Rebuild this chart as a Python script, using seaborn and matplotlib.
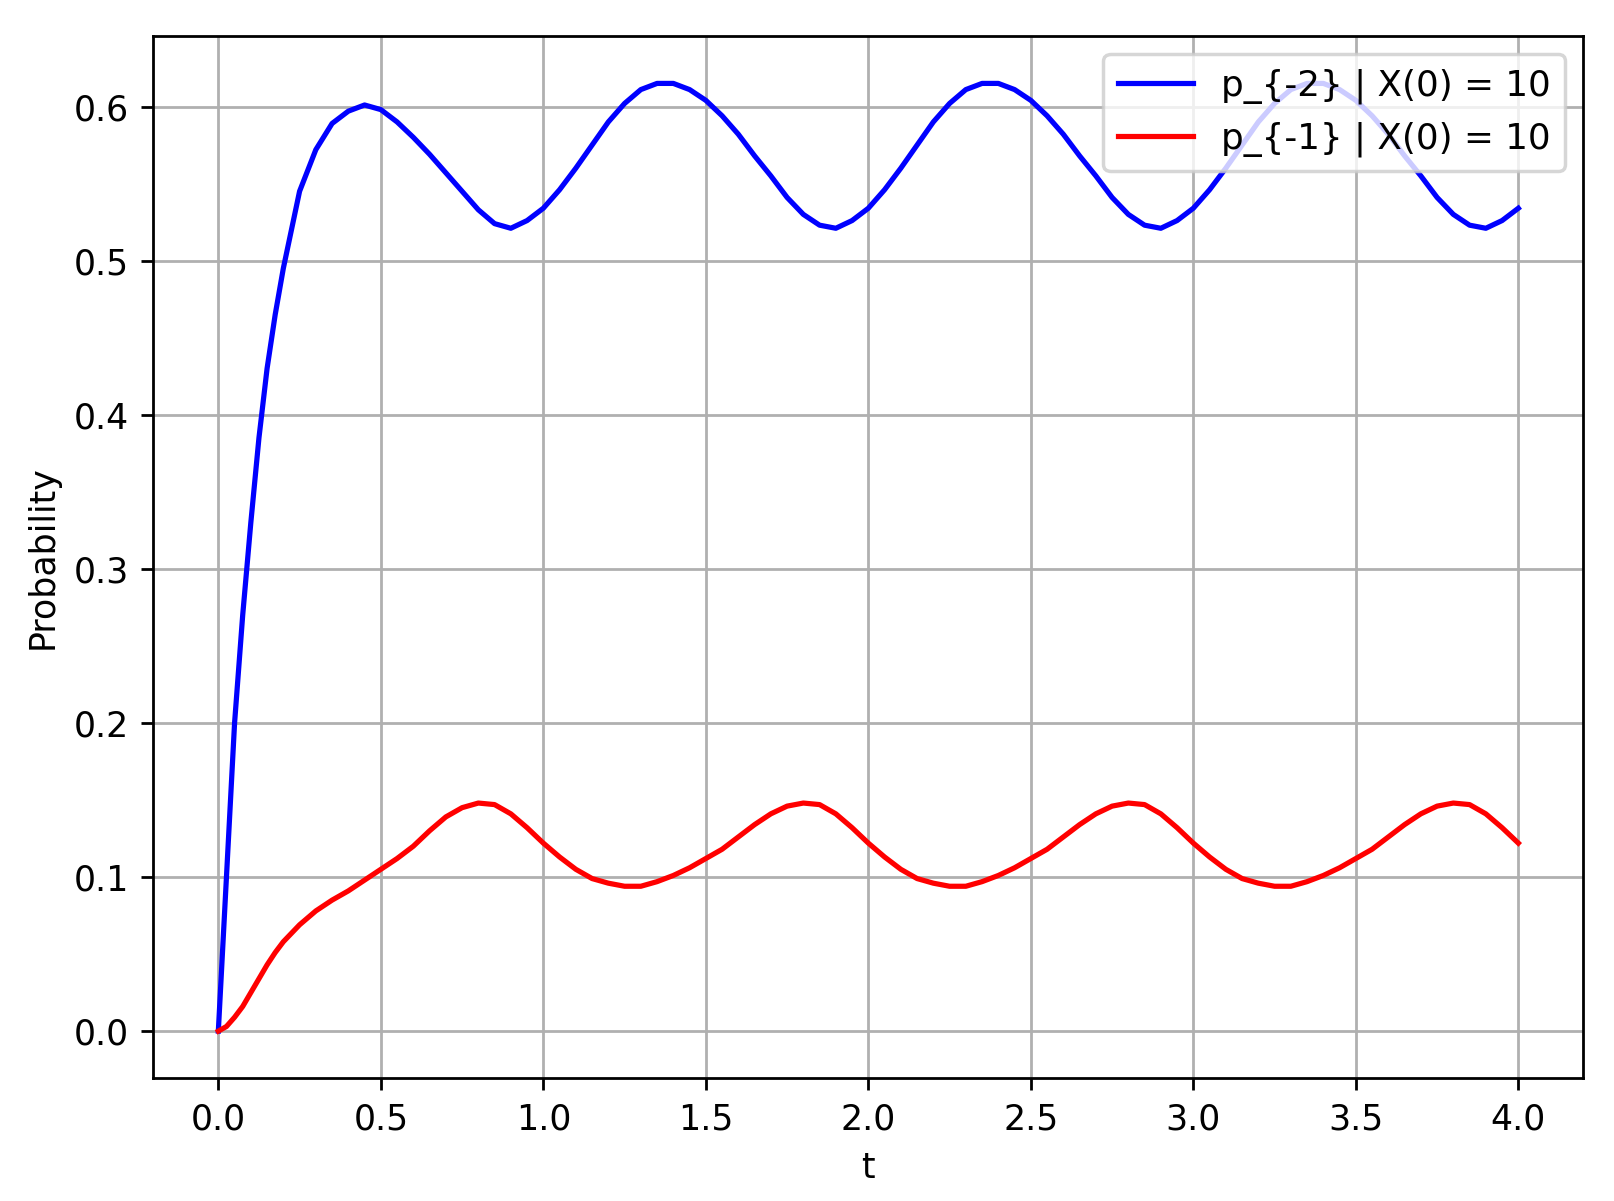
import numpy as np
import seaborn as sns
import matplotlib
matplotlib.use("Agg")
import matplotlib.pyplot as plt

# time grid: finer steps at the start where the blue curve climbs fast
t_start = [0.0, 0.025, 0.05, 0.075, 0.1, 0.125, 0.15, 0.175]
t_rest = np.round(np.arange(0.2, 4.0001, 0.05), 3)
t = np.concatenate([t_start, t_rest])

# values
p_minus2 = [
    0.000, 0.100, 0.200, 0.270, 0.330, 0.385, 0.430, 0.465,
    0.495, 0.545, 0.572, 0.589, 0.597, 0.601, 0.598, 0.590,
    0.580, 0.569, 0.557, 0.545, 0.533, 0.524, 0.521,
    0.526, 0.534, 0.546, 0.560, 0.575, 0.590, 0.602, 0.611, 0.615, 0.615,
    0.611, 0.604, 0.594, 0.582, 0.568, 0.555, 0.541, 0.530, 0.523, 0.521,
    0.526, 0.534, 0.546, 0.560, 0.575, 0.590, 0.602, 0.611, 0.615, 0.615,
    0.611, 0.604, 0.594, 0.582, 0.568, 0.555, 0.541, 0.530, 0.523, 0.521,
    0.526, 0.534, 0.546, 0.560, 0.575, 0.590, 0.602, 0.611, 0.615, 0.615,
    0.611, 0.604, 0.594, 0.582, 0.568, 0.555, 0.541, 0.530, 0.523, 0.521,
    0.526, 0.534,
]
p_minus1 = [
    0.000, 0.003, 0.009, 0.016, 0.025, 0.034, 0.043, 0.051,
    0.058, 0.069, 0.078, 0.085, 0.091, 0.098, 0.105, 0.112,
    0.120, 0.130, 0.139, 0.145, 0.148,
    0.147, 0.141, 0.132, 0.122, 0.113, 0.105, 0.099, 0.096, 0.094, 0.094,
    0.097, 0.101, 0.106, 0.112, 0.118, 0.126, 0.134, 0.141, 0.146, 0.148,
    0.147, 0.141, 0.132, 0.122, 0.113, 0.105, 0.099, 0.096, 0.094, 0.094,
    0.097, 0.101, 0.106, 0.112, 0.118, 0.126, 0.134, 0.141, 0.146, 0.148,
    0.147, 0.141, 0.132, 0.122, 0.113, 0.105, 0.099, 0.096, 0.094, 0.094,
    0.097, 0.101, 0.106, 0.112, 0.118, 0.126, 0.134, 0.141, 0.146, 0.148,
    0.147, 0.141, 0.132, 0.122,
]

fig, ax = plt.subplots(figsize=(1614 / 250, 1201 / 250), dpi=250)
fig.subplots_adjust(left=0.095, right=0.981, top=0.970, bottom=0.102)

sns.lineplot(x=t, y=p_minus2, color='blue', label='p_{-2} | X(0) = 10', ax=ax)
sns.lineplot(x=t, y=p_minus1, color='red', label='p_{-1} | X(0) = 10', ax=ax)

ax.set_xlabel('t')
ax.set_ylabel('Probability')
ax.grid(True)
ax.legend(loc='upper right', fontsize=10.3, handlelength=2.1)

fig.savefig('out.png', dpi=250)
